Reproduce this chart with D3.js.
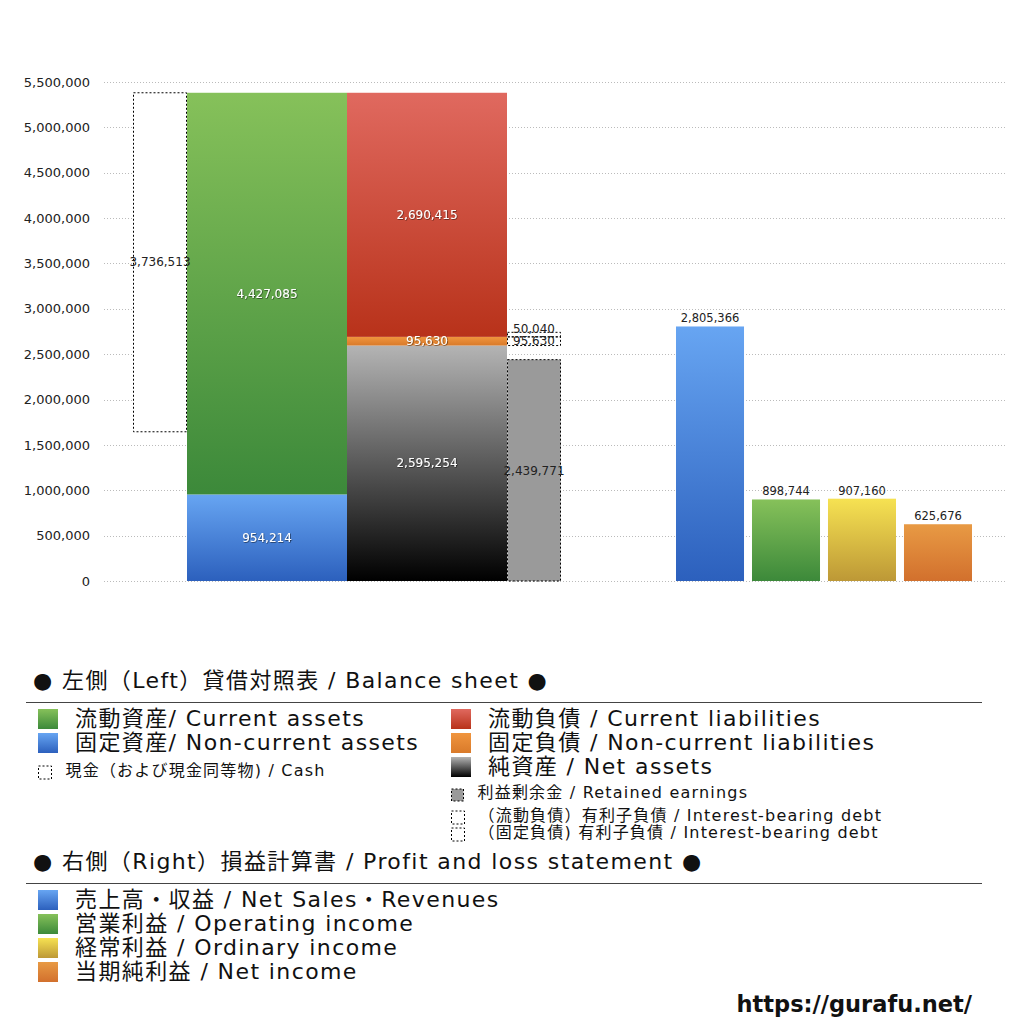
<!DOCTYPE html>
<html>
<head>
<meta charset="utf-8">
<script src="https://cdn.jsdelivr.net/npm/d3@7"></script>
<style>
  body { margin: 0; background: #fff; }
  svg { font-family: "DejaVu Sans", "Noto Sans CJK JP", sans-serif; }
</style>
</head>
<body>
<svg id="chart" width="1024" height="1024"></svg>
<script>
// balance sheet (left)
var assetNames = ["固定資産", "流動資産"];
var assetValues = [954214, 4427085];
var liabNames = ["純資産", "固定負債", "流動負債"];
var liabValues = [2595254, 95630, 2690415];
var cashValue = 3736513;
var retainedValue = 2439771;
var debtNames = ["固定負債 有利子負債", "流動負債 有利子負債"];
var debtValues = [95630, 50040];

// profit and loss (right)
var plNames = ["売上高・収益", "営業利益", "経常利益", "当期純利益"];
var plEnglish = ["Net Sales・Revenues", "Operating income", "Ordinary income", "Net income"];
var plValues = [2805366, 898744, 907160, 625676];

var yTicks = [0, 500000, 1000000, 1500000, 2000000, 2500000, 3000000, 3500000, 4000000, 4500000, 5000000, 5500000];

var svg = d3.select("#chart");
var fmt = d3.format(",");

var y = d3.scaleLinear().domain([0, 5500000]).range([581, 82]);
var xPL = d3.scaleBand().domain(plNames).range([676, 972]).paddingInner(0.105);

var defs = svg.append("defs");
function grad(id, top, bottom) {
    var g = defs.append("linearGradient").attr("id", id)
        .attr("x1", 0).attr("y1", 0).attr("x2", 0).attr("y2", 1);
    g.append("stop").attr("offset", "0%").attr("stop-color", top);
    g.append("stop").attr("offset", "100%").attr("stop-color", bottom);
}
grad("gBlue", "#67a5f2", "#2c60bd");
grad("gGreen", "#86c15a", "#3c893a");
grad("gRed", "#e0695f", "#b8321a");
grad("gOrange", "#f0953e", "#d97a2a");
grad("gBlack", "#b4b4b4", "#000000");
grad("gYellow", "#f6e252", "#bd9836");
grad("gOrange2", "#e89a44", "#d2702d");

var sh = defs.append("filter").attr("id", "shadow")
    .attr("x", "-20%").attr("y", "-50%").attr("width", "140%").attr("height", "200%");
sh.append("feDropShadow").attr("dx", 0.6).attr("dy", 0.6)
    .attr("stdDeviation", 0.6).attr("flood-color", "#000").attr("flood-opacity", 0.7);

// grid + y axis
var yAxis = svg.append("g").attr("transform", "translate(90,0)")
    .call(d3.axisLeft(y).tickValues(yTicks).tickFormat(fmt).tickSize(0).tickPadding(0));
yAxis.select(".domain").remove();
yAxis.selectAll("text").attr("font-size", 13).attr("fill", "#222")
    .attr("font-family", "'DejaVu Sans', sans-serif");

svg.append("g").selectAll("line").data(yTicks).enter().append("line")
    .attr("x1", 104).attr("x2", 1005)
    .attr("y1", d => Math.round(y(d)) + 0.5).attr("y2", d => Math.round(y(d)) + 0.5)
    .attr("stroke", "#bbb").attr("stroke-width", 1).attr("stroke-dasharray", "1,2");

function label(x, v, txt, white) {
    svg.append("text")
        .attr("x", x).attr("y", y(v)).attr("dy", "0.35em")
        .attr("text-anchor", "middle")
        .attr("font-size", 12)
        .attr("fill", white ? "#fff" : "#222")
        .attr("filter", white ? "url(#shadow)" : null)
        .text(txt);
}

// assets column
var assetFills = ["url(#gBlue)", "url(#gGreen)"];
var aStack = d3.cumsum(assetValues);
var total = aStack[aStack.length - 1];
assetValues.forEach(function(v, i) {
    var b = i ? aStack[i - 1] : 0;
    svg.append("rect").attr("x", 187).attr("width", 160)
        .attr("y", y(b + v)).attr("height", y(b) - y(b + v))
        .attr("fill", assetFills[i]);
});

// cash dashed box, hangs down from top of assets
svg.append("rect").attr("x", 133.5).attr("width", 53)
    .attr("y", y(total)).attr("height", y(total - cashValue) - y(total))
    .attr("fill", "#fff").attr("stroke", "#000").attr("stroke-width", 1)
    .attr("stroke-dasharray", "2,2");

// liabilities + net assets column
var liabFills = ["url(#gBlack)", "url(#gOrange)", "url(#gRed)"];
var lStack = d3.cumsum(liabValues);
liabValues.forEach(function(v, i) {
    var b = i ? lStack[i - 1] : 0;
    svg.append("rect").attr("x", 347).attr("width", 160)
        .attr("y", y(b + v)).attr("height", y(b) - y(b + v))
        .attr("fill", liabFills[i]);
});

// retained earnings
svg.append("rect").attr("x", 507.5).attr("width", 53)
    .attr("y", y(retainedValue)).attr("height", y(0) - y(retainedValue))
    .attr("fill", "#9a9a9a").attr("stroke", "#000").attr("stroke-width", 1)
    .attr("stroke-dasharray", "2,2");

// interest-bearing debt boxes on top of net assets
var dBase = liabValues[0];
debtValues.forEach(function(v) {
    svg.append("rect").attr("x", 507.5).attr("width", 53)
        .attr("y", y(dBase + v)).attr("height", y(dBase) - y(dBase + v))
        .attr("fill", "none").attr("stroke", "#000").attr("stroke-width", 1)
        .attr("stroke-dasharray", "2,2");
    dBase += v;
});

// labels left side
label(160, total - cashValue / 2, fmt(cashValue), false);
assetValues.forEach(function(v, i) {
    var b = i ? aStack[i - 1] : 0;
    label(267, b + v / 2, fmt(v), true);
});
liabValues.forEach(function(v, i) {
    var b = i ? lStack[i - 1] : 0;
    label(427, b + v / 2, fmt(v), true);
});
label(534, retainedValue / 2, fmt(retainedValue), false);
svg.append("text").attr("x", 534).attr("y", y(liabValues[0] + debtValues[0] / 2)).attr("dy", "0.35em")
    .attr("text-anchor", "middle").attr("font-size", 12).attr("fill", "#222")
    .text(fmt(debtValues[0]));
svg.append("text").attr("x", 534).attr("y", y(liabValues[0] + debtValues[0] + debtValues[1]) + 1)
    .attr("text-anchor", "middle").attr("font-size", 12).attr("fill", "#222")
    .text(fmt(debtValues[1]));

// profit and loss bars
var plFills = ["url(#gBlue)", "url(#gGreen)", "url(#gYellow)", "url(#gOrange2)"];
svg.append("g").selectAll("rect").data(plValues).enter().append("rect")
    .attr("x", (d, i) => xPL(plNames[i]))
    .attr("width", xPL.bandwidth())
    .attr("y", d => y(d))
    .attr("height", d => y(0) - y(d))
    .attr("fill", (d, i) => plFills[i]);
svg.append("g").selectAll("text").data(plValues).enter().append("text")
    .attr("x", (d, i) => xPL(plNames[i]) + xPL.bandwidth() / 2)
    .attr("y", d => y(d) - 4)
    .attr("text-anchor", "middle").attr("font-size", 11.5).attr("fill", "#222")
    .text(d => fmt(d));

// legend
function title(yy, txt) {
    svg.append("text").attr("x", 33).attr("y", yy).attr("font-size", 22)
        .attr("letter-spacing", 1.4).attr("fill", "#111").text(txt);
    svg.append("line").attr("x1", 26).attr("x2", 982).attr("y1", yy + 14.5).attr("y2", yy + 14.5)
        .attr("stroke", "#444").attr("stroke-width", 1.2);
}
function item(x, yy, fill, txt, size, dashed, sq) {
    sq = sq || 20;
    svg.append("rect").attr("x", x).attr("y", yy - sq + 3).attr("width", sq).attr("height", sq)
        .attr("fill", fill)
        .attr("stroke", dashed ? "#000" : "none").attr("stroke-dasharray", dashed ? "2,2" : null);
    svg.append("text").attr("x", x + sq + (size > 18 ? 17 : 14)).attr("y", yy)
        .attr("font-size", size).attr("letter-spacing", size > 18 ? 1.4 : 1.2)
        .attr("fill", "#111").text(txt);
}

title(688, "● 左側（Left）貸借対照表 / Balance sheet ●");
item(38, 726, "url(#gGreen)", "流動資産/ Current assets", 22);
item(38, 750, "url(#gBlue)", "固定資産/ Non-current assets", 22);
item(38.5, 776, "#fff", "現金（および現金同等物) / Cash", 16, true, 13);
item(451, 726, "url(#gRed)", "流動負債 /  Current liabilities", 22);
item(451, 750, "url(#gOrange)", "固定負債 / Non-current liabilities", 22);
item(451, 774, "url(#gBlack)", "純資産 / Net assets", 22);
item(451.5, 798, "#9a9a9a", "利益剰余金 / Retained earnings", 16, true, 12);
item(451.5, 821, "#fff", "（流動負債）有利子負債 / Interest-bearing debt", 16, true, 13);
item(451.5, 838, "#fff", "（固定負債) 有利子負債 / Interest-bearing debt", 16, true, 13);

title(869, "● 右側（Right）損益計算書 / Profit and loss statement ●");
plNames.forEach(function(n, i) {
    item(38, 907 + i * 24, plFills[i], n + " / " + plEnglish[i], 22);
});

svg.append("text").attr("x", 972).attr("y", 1012).attr("text-anchor", "end")
    .attr("font-size", 22.5).attr("font-weight", "bold").attr("fill", "#111")
    .text("https://gurafu.net/");
</script>
</body>
</html>
